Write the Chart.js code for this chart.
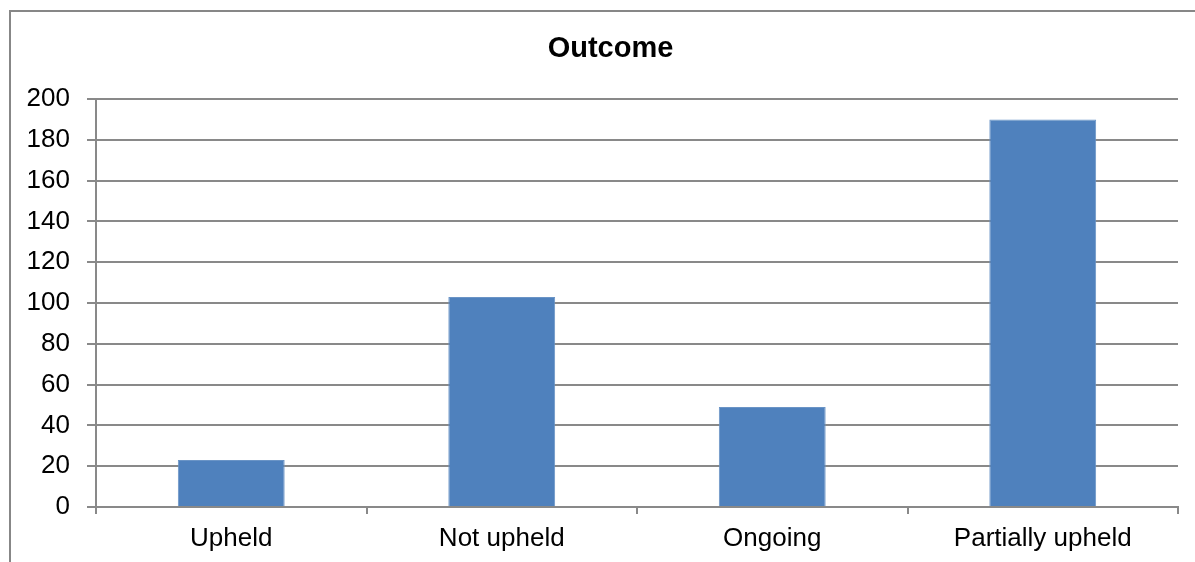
<!DOCTYPE html>
<html>
<head>
<meta charset="utf-8">
<script src="https://cdn.jsdelivr.net/npm/chart.js@4.4.1/dist/chart.umd.min.js"></script>
<style>
  html, body { margin: 0; padding: 0; background: #fff; overflow: hidden; }
  #wrap { position: relative; width: 1195px; height: 562px; overflow: hidden; }
  #frame { position: absolute; left: 9px; top: 10px; width: 1250px; height: 600px;
           border: 2px solid #878787; box-sizing: border-box; }
  #chart { position: absolute; left: 0; top: 0; }
</style>
</head>
<body>
<div id="wrap">
  <div id="frame"></div>
  <canvas id="chart" width="1221" height="562"></canvas>
</div>
<script>
// Complaint outcomes
const categories = ['Upheld', 'Not upheld', 'Ongoing', 'Partially upheld'];
const counts = [23, 103, 49, 190];
const yTicks = [0, 20, 40, 60, 80, 100, 120, 140, 160, 180, 200];
const chartTitle = 'Outcome';

const axisGrey = '#898989';
const fontFamily = '"Liberation Sans", Arial, sans-serif';

// Title centred on the full chart frame (which is wider than the plot area)
const frameTitle = {
  id: 'frameTitle',
  afterDraw(chart) {
    const ctx = chart.ctx;
    ctx.save();
    ctx.font = 'bold 29px ' + fontFamily;
    ctx.fillStyle = '#000';
    ctx.textAlign = 'center';
    ctx.textBaseline = 'middle';
    ctx.fillText(chartTitle, chart.width / 2, 49);
    ctx.restore();
  }
};

new Chart(document.getElementById('chart'), {
  type: 'bar',
  data: {
    labels: categories,
    datasets: [{
      data: counts,
      backgroundColor: '#4F81BD',
      borderColor: '#6a94c6',
      borderWidth: 1,
      barPercentage: 0.395,
      categoryPercentage: 1.0
    }]
  },
  plugins: [frameTitle],
  options: {
    responsive: false,
    animation: false,
    layout: { padding: { left: 0, right: 43, top: 99, bottom: 0 } },
    plugins: {
      legend: { display: false },
      tooltip: { enabled: false },
      title: { display: false }
    },
    scales: {
      x: {
        offset: true,
        grid: {
          offset: true,
          drawOnChartArea: false,
          drawTicks: true,
          tickLength: 7,
          color: axisGrey,
          lineWidth: 2
        },
        border: { color: axisGrey, width: 2 },
        ticks: {
          color: '#000',
          font: { family: fontFamily, size: 26 },
          padding: 9,
          maxRotation: 0
        },
        afterFit: (s) => { s.height = 55; }
      },
      y: {
        min: 0,
        max: 200,
        afterBuildTicks: (s) => { s.ticks = yTicks.map(v => ({ value: v })); },
        grid: {
          color: axisGrey,
          lineWidth: 2,
          drawTicks: true,
          tickLength: 9
        },
        border: { color: axisGrey, width: 2 },
        ticks: {
          color: '#000',
          font: { family: fontFamily, size: 26 },
          padding: 17
        },
        afterFit: (s) => { s.width = 96; }
      }
    }
  }
});
</script>
</body>
</html>
